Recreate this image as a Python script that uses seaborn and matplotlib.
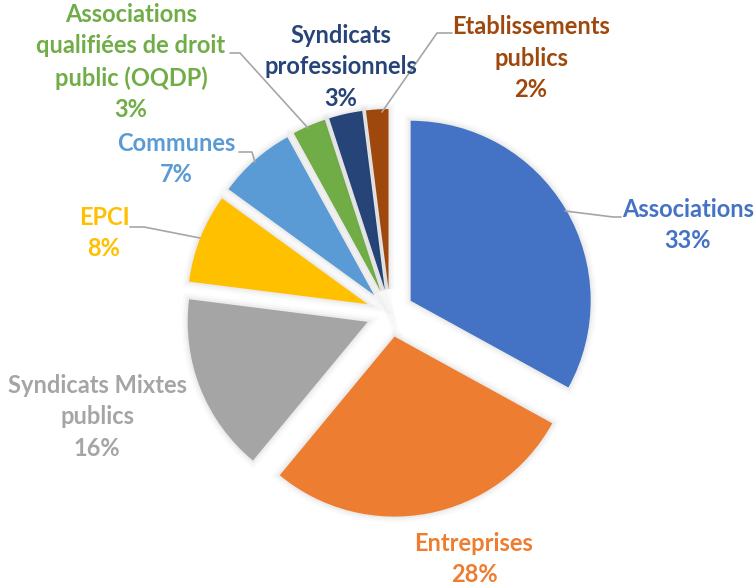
import numpy as np
import pandas as pd
import seaborn as sns
import matplotlib
matplotlib.use("Agg")
import matplotlib.pyplot as plt
import matplotlib.patheffects as pe

# data
categories = ["Associations", "Entreprises", "Syndicats Mixtes\npublics", "EPCI",
              "Communes", "Associations\nqualifiées de droit\npublic (OQDP)",
              "Syndicats\nprofessionnels", "Etablissements\npublics"]
shares = [33, 28, 16, 8, 7, 3, 3, 2]
colors = ["#4472C4", "#ED7D31", "#A5A5A5", "#FFC000",
          "#5B9BD5", "#70AD47", "#264478", "#9E480E"]

df = pd.DataFrame({"categorie": categories, "part": shares, "couleur": colors})

sns.set_style("white")
plt.rcParams["font.family"] = ["Lato", "DejaVu Sans"]

W, H = 754, 585
fig = plt.figure(figsize=(W / 100, H / 100), dpi=100)
ax = fig.add_axes([0, 0, 1, 1])

# y axis is flipped below, so counterclock in data = clockwise on screen
wedges, _ = ax.pie(df.part, colors=df.couleur, startangle=-90, counterclock=True,
                   center=(390, 313), radius=180, explode=[24] * len(df),
                   wedgeprops=dict(linewidth=0), frame=True)
# soft halo like the office shadow
halo = [pe.Stroke(linewidth=w, foreground="black", alpha=a)
        for w, a in [(9, 0.015), (6, 0.025), (3, 0.035)]] + [pe.Normal()]
for wdg in wedges:
    wdg.set_path_effects(halo)

ax.set_xlim(0, W)
ax.set_ylim(H, 0)  # image coords, y down
ax.axis("off")

# label layout (pixel positions of text blocks)
label_pos = [(688, 225), (474, 559), (97, 417), (104, 233),
             (176, 159), (131, 62), (341, 67), (531, 58)]
leaders = {
    0: [(565, 211), (613, 217), (621, 217)],
    3: [(200, 238), (144, 227), (130, 227)],
    4: [(255, 162), (252, 152), (239, 152)],
    5: [(308, 128), (240, 53), (230, 53)],
    7: [(382, 112), (437, 33), (452, 33)],
}

for i, row in df.iterrows():
    x, y = label_pos[i]
    ax.text(x, y, f"{row.categorie}\n{row.part}%", color=row.couleur,
            ha="center", va="center", multialignment="center",
            fontsize=17, fontweight="bold", linespacing=1.45)
    if i in leaders:
        pts = np.array(leaders[i])
        ax.plot(pts[:, 0], pts[:, 1], color="#A6A6A6", lw=1.2)

fig.savefig("out.png", dpi=100)
